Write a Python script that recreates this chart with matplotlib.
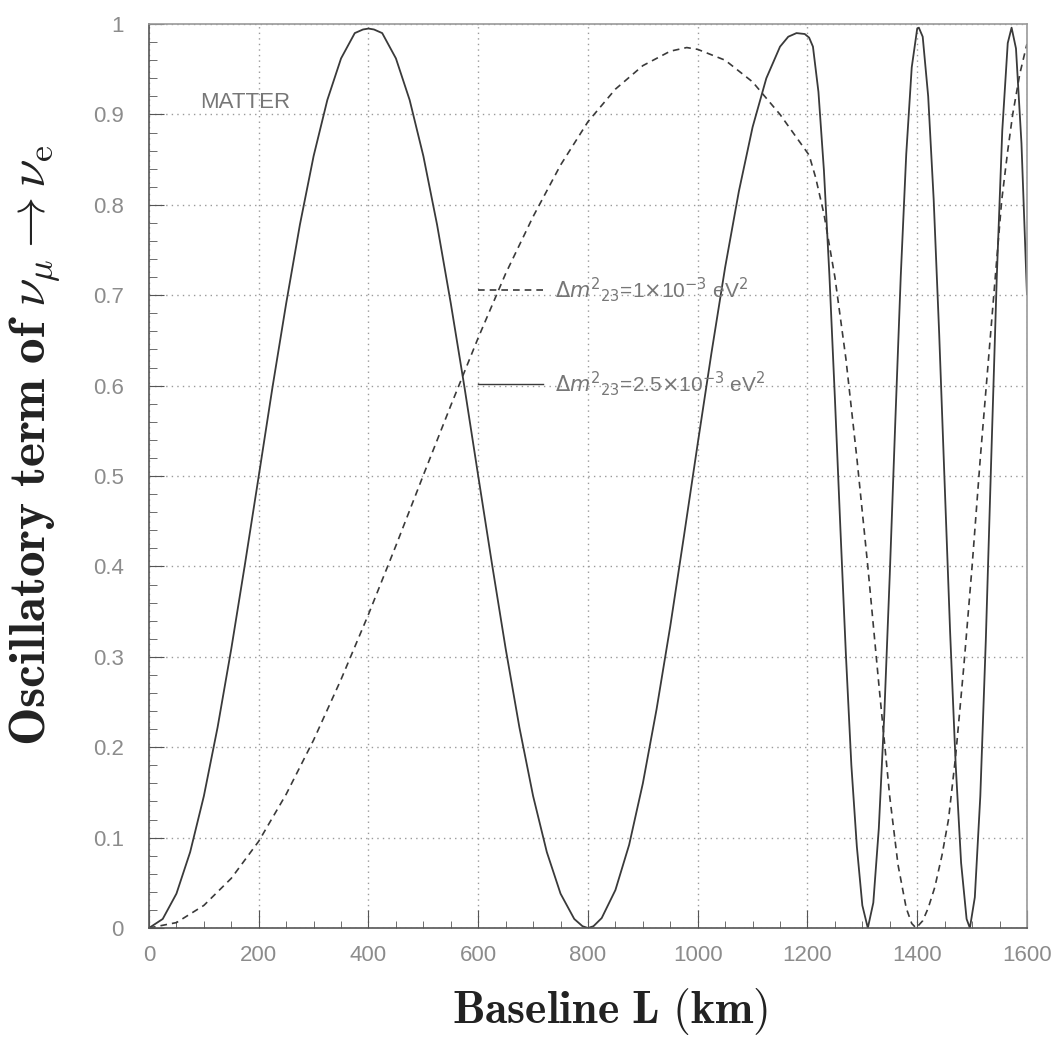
"""Oscillatory term of nu_mu -> nu_e in matter versus baseline."""

import matplotlib

matplotlib.use("Agg")

import matplotlib.pyplot as plt
from matplotlib.lines import Line2D
from matplotlib.ticker import AutoMinorLocator

SAVE_FIG = "out.png"

# solid curve: dm^2_23 = 2.5e-3 eV^2
solid_L = [
    0, 25, 50, 75, 100, 125, 150, 175, 200, 225, 250, 275, 300, 325, 350, 375,
    390, 400, 410, 425, 450, 475, 500, 525, 550, 575, 600, 625, 650, 675, 700,
    725, 750, 775, 790, 800, 810,
    825, 850, 875, 900, 925, 950, 975, 1000, 1025, 1050, 1075, 1100, 1125, 1150,
    1165, 1180, 1195, 1203,
    1210, 1220, 1230, 1240, 1250, 1260, 1270, 1280, 1290, 1300, 1310,
    1320, 1330, 1340, 1350, 1360, 1370, 1380, 1390, 1400, 1403,
    1410, 1420, 1430, 1440, 1450, 1460, 1470, 1480, 1490, 1496,
    1505, 1515, 1525, 1535, 1545, 1555, 1565, 1572, 1580, 1590, 1600,
]
solid_P = [
    0, .010, .038, .084, .146, .222, .309, .403, .500, .598, .691, .778, .854,
    .916, .962, .990, .994, .995, .994, .990, .962, .916, .854, .778, .691,
    .598, .500, .403, .309, .222, .146, .084, .038, .010, .002, 0, .002,
    .011, .042, .092, .160, .242, .334, .434, .536, .636, .731, .815, .886,
    .940, .975, .986, .990, .989, .985,
    .975, .925, .838, .722, .586, .442, .303, .180, .090, .025, 0,
    .028, .110, .236, .391, .559, .721, .856, .952, .995, .996,
    .986, .920, .806, .658, .492, .327, .182, .072, .010, 0,
    .034, .146, .318, .521, .720, .882, .979, .996, .973, .868, .701,
]

# dashed curve: dm^2_23 = 1e-3 eV^2
dashed_L = [
    0, 50, 100, 150, 200, 250, 300, 350, 400, 450, 500, 550, 600, 650, 700,
    750, 800, 850, 900, 950, 980, 1000, 1050, 1100, 1150, 1203,
    1215, 1230, 1250, 1270, 1290, 1310, 1330, 1350, 1365, 1380, 1390, 1398,
    1410, 1420, 1432, 1445, 1457, 1470, 1485, 1500, 1515, 1530, 1545, 1554,
    1565, 1574, 1587, 1600,
]
dashed_P = [
    0, .006, .025, .055, .096, .148, .208, .275, .347, .423, .501, .578, .653,
    .724, .787, .844, .892, .928, .954, .970, .974, .972, .960, .936, .900,
    .855,
    .830, .790, .720, .630, .520, .400, .270, .145, .070, .022, .005, 0,
    .008, .022, .045, .080, .120, .190, .290, .400, .520, .630, .740, .805,
    .860, .900, .945, .978,
]

x_ticks = [0, 200, 400, 600, 800, 1000, 1200, 1400, 1600]
x_tick_labels = ["0", "200", "400", "600", "800", "1000", "1200", "1400", "1600"]
y_ticks = [0, 0.1, 0.2, 0.3, 0.4, 0.5, 0.6, 0.7, 0.8, 0.9, 1.0]
y_tick_labels = ["0", "0.1", "0.2", "0.3", "0.4", "0.5", "0.6", "0.7", "0.8", "0.9", "1"]

legend_labels = [
    r"$\Delta m^{2}{}_{23}$=1$\times$10$^{-3}$ eV$^2$",
    r"$\Delta m^{2}{}_{23}$=2.5$\times$10$^{-3}$ eV$^2$",
]

LINE_COLOR = "#3a3a3a"
TEXT_GRAY = "#8c8c8c"


def main():
    plt.rcParams["font.family"] = ["Liberation Sans", "DejaVu Sans"]
    plt.rcParams["mathtext.fontset"] = "dejavusans"

    fig = plt.figure(figsize=(10.62, 10.46), dpi=100)
    ax = fig.add_axes([0.1403, 0.1128, 0.8267, 0.8642])

    ax.plot(solid_L, solid_P, color=LINE_COLOR, linewidth=1.3)
    ax.plot(dashed_L, dashed_P, color=LINE_COLOR, linewidth=1.2,
            linestyle=(0, (4, 3)))

    ax.set_xlim(0, 1600)
    ax.set_ylim(0, 1)
    ax.set_xticks(x_ticks)
    ax.set_xticklabels(x_tick_labels)
    ax.set_yticks(y_ticks)
    ax.set_yticklabels(y_tick_labels)
    ax.xaxis.set_minor_locator(AutoMinorLocator(4))
    ax.yaxis.set_minor_locator(AutoMinorLocator(5))
    ax.tick_params(axis="both", which="both", direction="in", colors="#555555",
                   labelcolor=TEXT_GRAY, labelsize=16)
    ax.tick_params(axis="x", which="major", length=13, pad=12)
    ax.tick_params(axis="x", which="minor", length=5)
    ax.tick_params(axis="y", which="major", length=11, pad=18)
    ax.tick_params(axis="y", which="minor", length=6)

    ax.grid(True, which="major", color="#9a9a9a", linestyle=(0, (1, 3)),
            linewidth=1.0)
    for side in ["left", "bottom"]:
        ax.spines[side].set_color("#555555")
        ax.spines[side].set_linewidth(1.2)
    for side in ["top", "right"]:
        ax.spines[side].set_color("#9a9a9a")
        ax.spines[side].set_linewidth(1.2)

    ax.set_xlabel(r"$\mathbf{Baseline\ L\ (km)}$", fontsize=33,
                  math_fontfamily="cm", color="#222222")
    ax.xaxis.set_label_coords(0.525, -0.064)
    ax.set_ylabel(r"$\mathbf{Oscillatory\ term\ of}\ \nu_{\mu} \rightarrow \nu_{\mathrm{e}}$",
                  fontsize=37, math_fontfamily="cm", color="#222222")
    ax.yaxis.set_label_coords(-0.098, 0.534)

    ax.text(0.058, 0.913, "MATTER", transform=ax.transAxes, fontsize=16,
            color="#777777", va="center", ha="left")

    handles = [
        Line2D([], [], color=LINE_COLOR, linewidth=1.2, linestyle=(0, (4, 3))),
        Line2D([], [], color=LINE_COLOR, linewidth=1.0),
    ]
    ax.legend(handles, legend_labels, loc="upper left",
              bbox_to_anchor=(0.375, 0.722), frameon=False, fontsize=15,
              labelcolor="#777777", handlelength=3.1, handletextpad=0.6,
              labelspacing=3.1, borderpad=0, borderaxespad=0)

    fig.savefig(SAVE_FIG, dpi=100)
    plt.close(fig)


if __name__ == "__main__":
    main()
